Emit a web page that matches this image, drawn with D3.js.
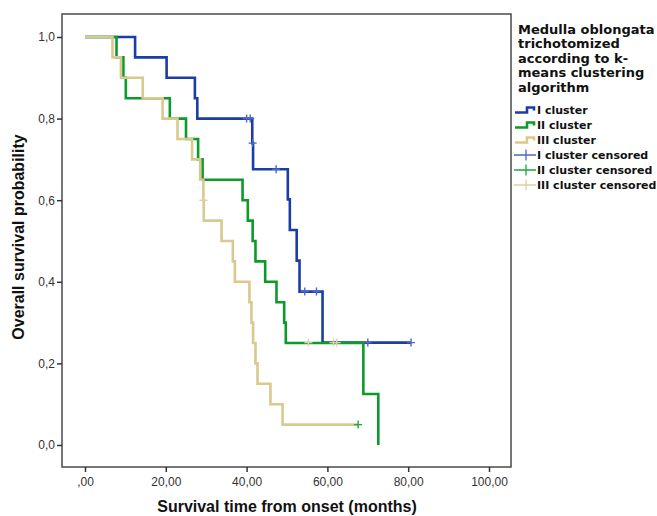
<!DOCTYPE html>
<html>
<head>
<meta charset="utf-8">
<script src="https://cdn.jsdelivr.net/npm/d3@7"></script>
<style>
  body { margin: 0; background: #fff; }
  text { font-family: "Liberation Sans", Arial, sans-serif; }
</style>
</head>
<body>
<div class="chart-container"></div>
<script>
//! DATA  (time in months, survival probability after the event)
const clusterI = [[0, 1], [12.4, 0.95], [20.2, 0.90], [27.2, 0.85], [27.8, 0.80], [41.4, 0.74],
  [41.6, 0.676], [50.2, 0.602], [50.7, 0.527], [52.4, 0.452], [53.1, 0.376], [58.8, 0.251], [80.7, 0.251]];
const clusterII = [[0, 1], [7.8, 0.95], [9.5, 0.90], [10.1, 0.85], [21.0, 0.80], [25.0, 0.75], [28.0, 0.70],
  [29.1, 0.65], [39.0, 0.60], [40.3, 0.55], [41.5, 0.50], [42.2, 0.45], [44.6, 0.40], [47.4, 0.35],
  [49.3, 0.30], [49.7, 0.25], [68.9, 0.125], [72.6, 0.0]];
const clusterIII = [[0, 1], [6.8, 0.95], [8.9, 0.90], [14.3, 0.85], [19.2, 0.80], [22.9, 0.75], [26.5, 0.70],
  [28.5, 0.65], [29.3, 0.60], [29.4, 0.55], [33.8, 0.50], [36.6, 0.45], [37.1, 0.40], [40.7, 0.35],
  [41.2, 0.30], [41.6, 0.25], [42.2, 0.20], [42.7, 0.15], [45.9, 0.10], [48.9, 0.05], [67.6, 0.05]];

const censoredI = [[40.0, 0.80], [40.9, 0.80], [41.5, 0.74], [47.3, 0.676], [54.4, 0.376], [57.3, 0.376],
  [70.0, 0.251], [80.7, 0.251]];
const censoredII = [[67.6, 0.05]];
const censoredIII = [[29.3, 0.60], [55.3, 0.251], [61.5, 0.251], [62.3, 0.251]];

const xTicks = [0, 20, 40, 60, 80, 100];
const xTickLabels = [',00', '20,00', '40,00', '60,00', '80,00', '100,00'];
const yTicks = [0, 0.2, 0.4, 0.6, 0.8, 1.0];
const yTickLabels = ['0,0', '0,2', '0,4', '0,6', '0,8', '1,0'];

const legendTitle = ['Medulla oblongata', 'trichotomized', 'according to k-', 'means clustering', 'algorithm'];
const seriesNames = ['I cluster', 'II cluster', 'III cluster'];
const censorNames = ['I cluster censored', 'II cluster censored', 'III cluster censored'];

//! CONSTS
const width = 657;
const height = 516;
const frame = { left: 62, top: 14, right: 511, bottom: 467 };
const colors = ['#1b3da6', '#0c9a2b', '#d8c98f'];
const censorColors = ['#4a68c8', '#1aa83a', '#ddd1a3'];
const legendFont = '"DejaVu Sans", Verdana, sans-serif';

//! SVG
const svg = d3.select('.chart-container')
  .append('svg')
  .attr('width', width)
  .attr('height', height);

const xScale = d3.scaleLinear().domain([0, 100]).range([85, 489]);
const yScale = d3.scaleLinear().domain([0, 1]).range([445, 37]);

// frame
svg.append('rect')
  .attr('x', frame.left)
  .attr('y', frame.top)
  .attr('width', frame.right - frame.left)
  .attr('height', frame.bottom - frame.top)
  .attr('fill', 'none')
  .attr('stroke', '#4a4a4a')
  .attr('stroke-width', 1.5);

//! AXIS
const xAxis = d3.axisBottom(xScale)
  .tickValues(xTicks)
  .tickSize(5)
  .tickPadding(5)
  .tickFormat((d, i) => xTickLabels[i]);

const yAxis = d3.axisLeft(yScale)
  .tickValues(yTicks)
  .tickSize(5)
  .tickPadding(2)
  .tickFormat((d, i) => yTickLabels[i]);

const gx = svg.append('g')
  .attr('transform', `translate(0,${frame.bottom})`)
  .call(xAxis);
const gy = svg.append('g')
  .attr('transform', `translate(${frame.left},0)`)
  .call(yAxis);

[gx, gy].forEach((g) => {
  g.select('.domain').remove();
  g.selectAll('.tick line').attr('stroke', '#333').attr('stroke-width', 1.5);
  g.selectAll('.tick text')
    .attr('fill', '#333')
    .style('font-size', '12px')
    .style('font-family', '"Liberation Sans", Arial, sans-serif');
});

svg.append('text')
  .attr('x', 287)
  .attr('y', 512)
  .attr('text-anchor', 'middle')
  .attr('font-weight', 'bold')
  .attr('font-size', 16)
  .attr('fill', '#111')
  .text('Survival time from onset (months)');

svg.append('text')
  .attr('transform', 'translate(24,237) rotate(-90)')
  .attr('text-anchor', 'middle')
  .attr('font-weight', 'bold')
  .attr('font-size', 16)
  .attr('fill', '#111')
  .text('Overall survival probability');

//! CURVES
const step = d3.line()
  .x((d) => xScale(d[0]))
  .y((d) => yScale(d[1]))
  .curve(d3.curveStepAfter);

[clusterI, clusterII, clusterIII].forEach((data, i) => {
  svg.append('path')
    .datum(data)
    .attr('d', step)
    .attr('fill', 'none')
    .attr('stroke', colors[i])
    .attr('stroke-width', 2.6);
});

//! CENSOR MARKS
[censoredI, censoredII, censoredIII].forEach((data, i) => {
  const g = svg.append('g').attr('stroke', censorColors[i]).attr('stroke-width', 1.4);
  g.selectAll('path')
    .data(data)
    .enter()
    .append('path')
    .attr('d', (d) => {
      const x = xScale(d[0]);
      const y = yScale(d[1]);
      return `M${x - 4},${y}H${x + 4}M${x},${y - 4}V${y + 4}`;
    });
});

//! LEGEND
const legend = svg.append('g').attr('transform', 'translate(518,0)');

legend.selectAll('text.title')
  .data(legendTitle)
  .enter()
  .append('text')
  .attr('class', 'title')
  .attr('x', 0)
  .attr('y', (d, i) => 33.5 + i * 14.6)
  .style('font-family', legendFont)
  .attr('font-weight', 'bold')
  .attr('font-size', 13)
  .attr('fill', '#111')
  .text((d) => d);

const rowY = (i) => 110 + i * 15;

seriesNames.forEach((name, i) => {
  const y = rowY(i);
  legend.append('path')
    .attr('d', `M-3,${y + 2.5}H9V${y - 2.5}H16V${y + 0.5}`)
    .attr('fill', 'none')
    .attr('stroke', colors[i])
    .attr('stroke-width', 2.6);
  legend.append('text')
    .attr('x', 19)
    .attr('y', y + 4)
    .style('font-family', legendFont)
    .attr('font-weight', 'bold')
    .attr('font-size', 11)
    .attr('fill', '#111')
    .text(name);
});

censorNames.forEach((name, i) => {
  const y = rowY(i + 3);
  legend.append('path')
    .attr('d', `M-4,${y}H18M8,${y - 5.5}V${y + 5.5}`)
    .attr('fill', 'none')
    .attr('stroke', censorColors[i])
    .attr('stroke-width', 1.3);
  legend.append('text')
    .attr('x', 19)
    .attr('y', y + 4)
    .style('font-family', legendFont)
    .attr('font-weight', 'bold')
    .attr('font-size', 11)
    .attr('fill', '#111')
    .text(name);
});
</script>
</body>
</html>
